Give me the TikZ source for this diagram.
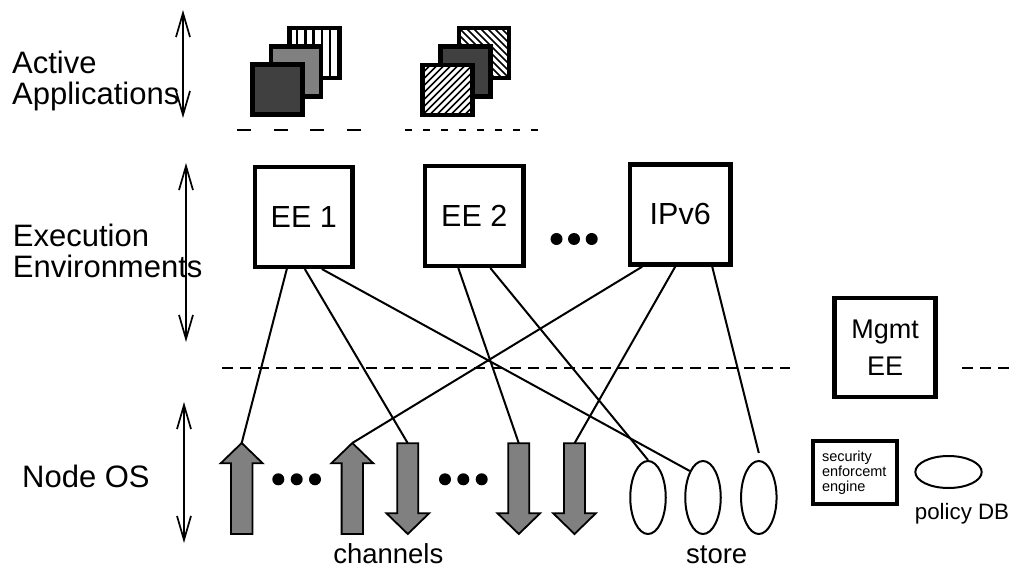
\documentclass[tikz,border=0pt]{standalone}
\usepackage{fontspec}
\setmainfont{Liberation Sans}
\usetikzlibrary{arrows.meta,shapes.geometric}
\definecolor{chgray}{HTML}{808080}
\definecolor{darkfill}{HTML}{404040}
\begin{document}
\begin{tikzpicture}[x=1pt,y=-1pt,
  eebox/.style={draw, line width=4.5pt, rectangle, inner sep=0pt,
    font=\fontsize{30.5}{31}\selectfont},
  link/.style={line width=2pt},
  storecell/.style={draw, ellipse, line width=2pt, minimum width=35.5pt,
    minimum height=73pt, inner sep=0pt},
  chan/.style={draw=black, fill=chgray, line width=1.8pt, line join=miter},
  layer/.style={line width=1.7pt,
    {Straight Barb[length=24pt,width=14pt]}-{Straight Barb[length=24pt,width=14pt]}},
  tier/.style={align=left, inner sep=0pt, font=\fontsize{31}{31}\selectfont},
  caption/.style={anchor=base, inner sep=0pt, font=\fontsize{27.5}{28}\selectfont},
  sepline/.style={line width=2pt},
  app/.style={draw, line width=4.5pt},
  dotmark/.style={fill=black},
  uparr/.pic={
    \coordinate (-tip) at (0,0);
    \draw[chan] (0,0) -- (21,20.3) -- (10.7,20.3) -- (10.7,91)
      -- (-10.7,91) -- (-10.7,20.3) -- (-21,20.3) -- cycle;},
  dnarr/.pic={
    \coordinate (-top) at (0,0);
    \draw[chan] (-10.5,0) -- (10.5,0) -- (10.5,70) -- (21.3,70)
      -- (0,90.7) -- (-21.3,70) -- (-10.5,70) -- cycle;}
]
\useasboundingbox (0,0) rectangle (1016,569);

% ---- layer labels and their extent arrows
\node[tier, anchor=north west] (lblapps) at (12,51) {Active\\Applications};
\node[tier, anchor=north west] (lblee) at (12.7,224) {Execution\\Environments};
\node[tier, anchor=base west] (lblos) at (22,487) {Node OS};

\coordinate (appsTop) at (183,10);   \coordinate (appsBot) at (183,118);
\coordinate (eeTop) at (186,163);    \coordinate (eeBot) at (186,342);
\coordinate (osTop) at (184,402);    \coordinate (osBot) at (184,543);
\draw[layer] (appsTop) -- (appsBot);
\draw[layer] (eeTop) -- (eeBot);
\draw[layer] (osTop) -- (osBot);

% ---- active applications: two stacks of three squares
% left stack, back square with vertical stripes
\fill[white] (289.7,28.2) rectangle (339.7,78.2);
\foreach \sx in {297,305.3,313.6,321.9,330.2}
  \draw[line width=2.5pt] (\sx,28.2) -- (\sx,78.2);
\draw[app] (289.7,28.2) rectangle (339.7,78.2);
% left stack, middle and front squares
\draw[app, fill=chgray] (271,46.5) rectangle (321,96.5);
\draw[app, fill=darkfill] (252.5,64.5) rectangle (302.5,114.5);

% right stack, back square hatched "\"
\fill[white] (459.2,28.2) rectangle (509.2,78.2);
\begin{scope}
  \clip (459.2,28.2) rectangle (509.2,78.2);
  \foreach \k in {-70,-63,...,70}
    \draw[line width=1.5pt] (484.2+\k-30,53.2-30) -- (484.2+\k+30,53.2+30);
\end{scope}
\draw[app] (459.2,28.2) rectangle (509.2,78.2);
% right stack, middle square
\draw[app, fill=darkfill] (440.5,46.5) rectangle (490.5,96.5);
% right stack, front square hatched "/"
\fill[white] (422.7,64.8) rectangle (472.7,114.8);
\begin{scope}
  \clip (422.7,64.8) rectangle (472.7,114.8);
  \foreach \k in {-70,-63,...,70}
    \draw[line width=1.5pt] (447.7+\k-30,89.8+30) -- (447.7+\k+30,89.8-30);
\end{scope}
\draw[app] (422.7,64.8) rectangle (472.7,114.8);

% separators below the application stacks
\coordinate (sepAa) at (237,130);  \coordinate (sepAb) at (363,130);
\coordinate (sepBa) at (405,130);  \coordinate (sepBb) at (540,130);
\draw[sepline, dash pattern=on 14pt off 22.7pt] (sepAa) -- (sepAb);
\draw[sepline, dash pattern=on 7pt off 11pt] (sepBa) -- (sepBb);

% ---- execution environments
\node[eebox, minimum width=97.8pt, minimum height=99.5pt] (ee1) at (303.8,217) {EE 1};
\node[eebox, minimum width=98.8pt, minimum height=99.5pt] (ee2) at (474.3,216) {EE 2};
\node[eebox, minimum width=100.5pt, minimum height=99.9pt] (ipv6) at (680.2,214.5) {IPv6};
\foreach \dx in {556.5,574,591.7}
  \fill[dotmark] (\dx,239) circle (6pt);

\node[eebox, minimum width=100.9pt, minimum height=99.1pt, align=center,
  font=\fontsize{27}{37}\selectfont] (mgmt) at (885,347.5) {Mgmt\\EE};

% boundary between execution environments and the node OS
\coordinate (bndA) at (222,368);  \coordinate (bndB) at (790,368);
\coordinate (bndC) at (962,368);  \coordinate (bndD) at (1010,368);
\draw[sepline, dash pattern=on 11pt off 7pt] (bndA) -- (bndB);
\draw[sepline, dash pattern=on 11pt off 7pt] (bndC) -- (bndD);

% ---- node OS: channels, store, security engine, policy DB
\pic (u1) at (241.7,443) {uparr};
\pic (u2) at (352.3,443) {uparr};
\pic (d1) at (407.8,443.3) {dnarr};
\pic (d2) at (518.8,443.3) {dnarr};
\pic (d3) at (574.5,443.3) {dnarr};
\foreach \dx in {278.3,296.7,315,445,463.3,481.7}
  \fill[dotmark] (\dx,479.3) circle (6pt);

\node[storecell] (st1) at (648,497.5) {};
\node[storecell] (st2) at (703,497.5) {};
\node[storecell] (st3) at (758.8,497.5) {};

\node[caption] (lblch) at (388.3,563.5) {channels};
\node[caption] (lblst) at (716.7,563.5) {store};

\node[draw, line width=4pt, text width=66pt, inner xsep=9pt, inner ysep=0pt,
  minimum height=63.6pt, align=left, font=\fontsize{14.5}{15}\selectfont]
  (sec) at (855,472.5) {security\\enforcemt\\engine};
\node[draw, ellipse, line width=2pt, minimum width=66.4pt, minimum height=32pt,
  inner sep=0pt] (pdb) at (948.5,472) {};
\node[anchor=base, inner sep=0pt, font=\fontsize{22.3}{24}\selectfont]
  (lblpdb) at (962,519.3) {policy DB};

% ---- bindings between environments and OS resources
\draw[link] ([xshift=-17pt]ee1.south) -- (u1-tip);
\draw[link] ([xshift=1pt]ee1.south) -- (d1-top);
\draw[link] ([xshift=18pt]ee1.south) -- (st2.north west);
\draw[link] ([xshift=-16pt]ee2.south) -- (d2-top);
\draw[link] ([xshift=16pt]ee2.south) -- (st1.north);
\draw[link] ([xshift=-38pt]ipv6.south) -- (u2-tip);
\draw[link] ([xshift=-5pt]ipv6.south) -- (d3-top);
\draw[link] ([xshift=32pt]ipv6.south) -- ([yshift=7pt]st3.north);
\end{tikzpicture}
\end{document}
